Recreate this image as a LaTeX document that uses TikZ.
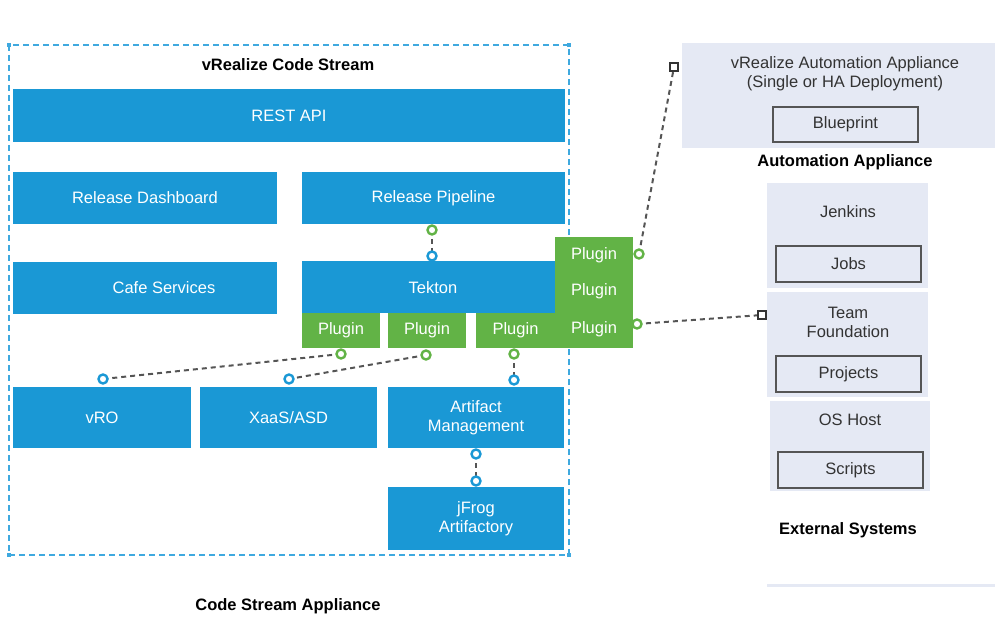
\documentclass[tikz,border=0pt]{standalone}
\usepackage{fontspec}
\setmainfont{Liberation Sans}
\definecolor{cblue}{HTML}{1A98D5}
\definecolor{cgreen}{HTML}{62B346}
\definecolor{clight}{HTML}{E5E9F4}
\definecolor{cdash}{HTML}{3FA9DF}
\definecolor{cline}{HTML}{555555}
\definecolor{ctext}{HTML}{333333}
\tikzset{
  lbl/.style={font=\fontsize{16.5}{19}\selectfont, align=center, inner sep=0pt},
  bluebox/.style={fill=cblue, inner sep=0pt, text=white, lbl},
  greenbox/.style={fill=cgreen, inner sep=0pt, text=white, lbl},
  lightbox/.style={fill=clight, inner sep=0pt, text=ctext, lbl},
  subbox/.style={fill=clight, draw=cline, line width=2pt, inner sep=0pt, text=ctext, lbl},
  ttl/.style={font=\fontsize{16.5}{19}\selectfont\bfseries, inner sep=0pt},
  gdot/.style={circle, draw=cgreen, fill=white, line width=2.4pt, minimum size=9pt, inner sep=0pt},
  bdot/.style={circle, draw=cblue, fill=white, line width=2.4pt, minimum size=9pt, inner sep=0pt},
  sqend/.style={rectangle, draw=ctext, fill=white, line width=2.2pt, minimum size=8.5pt, inner sep=0pt},
  conn/.style={draw=cline, line width=2pt, dash pattern=on 5pt off 4pt},
  cornr/.style={fill=cdash, minimum size=4pt, inner sep=0pt},
}
\begin{document}
\begin{tikzpicture}[x=1pt,y=-1pt]
\useasboundingbox (0,0) rectangle (995,617);
% outer dashed container
\draw[cdash, line width=1.8pt, dash pattern=on 6pt off 4pt] (9,45) rectangle (569,555);
\node[cornr] (c1) at (9,45) {};
\node[cornr] (c2) at (569,45) {};
\node[cornr] (c3) at (9,555) {};
\node[cornr] (c4) at (569,555) {};
\node[ttl] (t1) at (288,65) {vRealize Code Stream};
\node[ttl] (t2) at (288,606) {Code Stream Appliance};

% blue blocks
\node[bluebox, minimum width=552pt, minimum height=53pt] (rest) at (289,115.5) {REST API};
\node[bluebox, minimum width=264pt, minimum height=52pt] (rdash) at (145,198) {Release Dashboard};
\node[bluebox, minimum width=263pt, minimum height=52pt] (rpipe) at (433.5,198) {Release Pipeline};
\node[bluebox, minimum width=264pt, minimum height=52pt] (cafe) at (145,288) {};
\node[lbl, text=white] (cafel) at (164,288) {Cafe Services};
\node[bluebox, minimum width=253pt, minimum height=52pt] (tek) at (428.5,287) {};
\node[lbl, text=white] (tekl) at (433,288) {Tekton};
\node[bluebox, minimum width=178pt, minimum height=61pt] (vro) at (102,417.5) {vRO};
\node[bluebox, minimum width=177pt, minimum height=61pt] (xaas) at (288.5,417.5) {XaaS/ASD};
\node[bluebox, minimum width=176pt, minimum height=61pt] (am) at (476,417.5) {Artifact\\Management};
\node[bluebox, minimum width=176pt, minimum height=63pt] (jf) at (476,518.5) {jFrog\\Artifactory};

% plugins
\node[greenbox, minimum width=78pt, minimum height=36.5pt] (p1) at (594,255) {Plugin};
\node[greenbox, minimum width=78pt, minimum height=37.5pt] (p2) at (594,291.5) {Plugin};
\node[greenbox, minimum width=78pt, minimum height=38pt] (p3) at (594,329) {Plugin};
\node[greenbox, minimum width=78pt, minimum height=35pt] (pa) at (341,330.5) {Plugin};
\node[greenbox, minimum width=78pt, minimum height=35pt] (pb) at (427,330.5) {Plugin};
\node[greenbox, minimum width=80pt, minimum height=35pt] (pc) at (515.5,330.5) {Plugin};

% right side
\node[lightbox, minimum width=313pt, minimum height=105pt] (vra) at (838.5,95.5) {};
\node[lbl, text=ctext] (vral) at (845,73.5) {vRealize Automation Appliance\\(Single or HA Deployment)};
\node[subbox, minimum width=145pt, minimum height=35pt] (bp) at (845.5,124.5) {Blueprint};
\node[ttl] (t3) at (845,162) {Automation Appliance};

\node[lightbox, minimum width=161pt, minimum height=105pt] (jen) at (847.5,235.5) {};
\node[lbl, text=ctext] (jenl) at (848,212) {Jenkins};
\node[subbox, minimum width=145pt, minimum height=36pt] (jobs) at (848.5,264) {Jobs};

\node[lightbox, minimum width=161pt, minimum height=105pt] (tf) at (847.5,344.5) {};
\node[lbl, text=ctext] (tfl) at (848,322) {Team\\Foundation};
\node[subbox, minimum width=145pt, minimum height=36pt] (proj) at (848.5,374) {Projects};

\node[lightbox, minimum width=160pt, minimum height=90pt] (os) at (850,446) {};
\node[lbl, text=ctext] (osl) at (850,420) {OS Host};
\node[subbox, minimum width=145pt, minimum height=36pt] (scr) at (850.5,470) {Scripts};
\node[ttl] (t4) at (848,530) {External Systems};
\coordinate (bl1) at (767,585);
\coordinate (bl2) at (995,585);
\draw[clight, line width=3pt] (bl1) -- (bl2);

% connector end markers (positions)
\coordinate (rpb) at (432,230);
\coordinate (tkt) at (432,256);
\coordinate (pab) at (341,354);
\coordinate (vrot) at (103,379);
\coordinate (pbb) at (426,355);
\coordinate (xat) at (289,379);
\coordinate (pcb) at (514,354);
\coordinate (amt) at (514,380);
\coordinate (amb) at (476,454);
\coordinate (jft) at (476,481);
\coordinate (p1r) at (639,254);
\coordinate (sq1) at (674,67);
\coordinate (p3r) at (637,324);
\coordinate (sq2) at (762,315);

% connectors
\draw[conn] (rpb) -- (tkt);
\draw[conn] (pab) -- (vrot);
\draw[conn] (pbb) -- (xat);
\draw[conn] (pcb) -- (amt);
\draw[conn] (amb) -- (jft);
\draw[conn] (p1r) -- (sq1);
\draw[conn] (p3r) -- (sq2);

% markers
\node[gdot] (mrpb) at (rpb) {};
\node[bdot] (mtkt) at (tkt) {};
\node[gdot] (mpab) at (pab) {};
\node[bdot] (mvrot) at (vrot) {};
\node[gdot] (mpbb) at (pbb) {};
\node[bdot] (mxat) at (xat) {};
\node[gdot] (mpcb) at (pcb) {};
\node[bdot] (mamt) at (amt) {};
\node[bdot] (mamb) at (amb) {};
\node[bdot] (mjft) at (jft) {};
\node[gdot] (mp1r) at (p1r) {};
\node[gdot] (mp3r) at (p3r) {};
\node[sqend] (msq1) at (sq1) {};
\node[sqend] (msq2) at (sq2) {};
\end{tikzpicture}
\end{document}
